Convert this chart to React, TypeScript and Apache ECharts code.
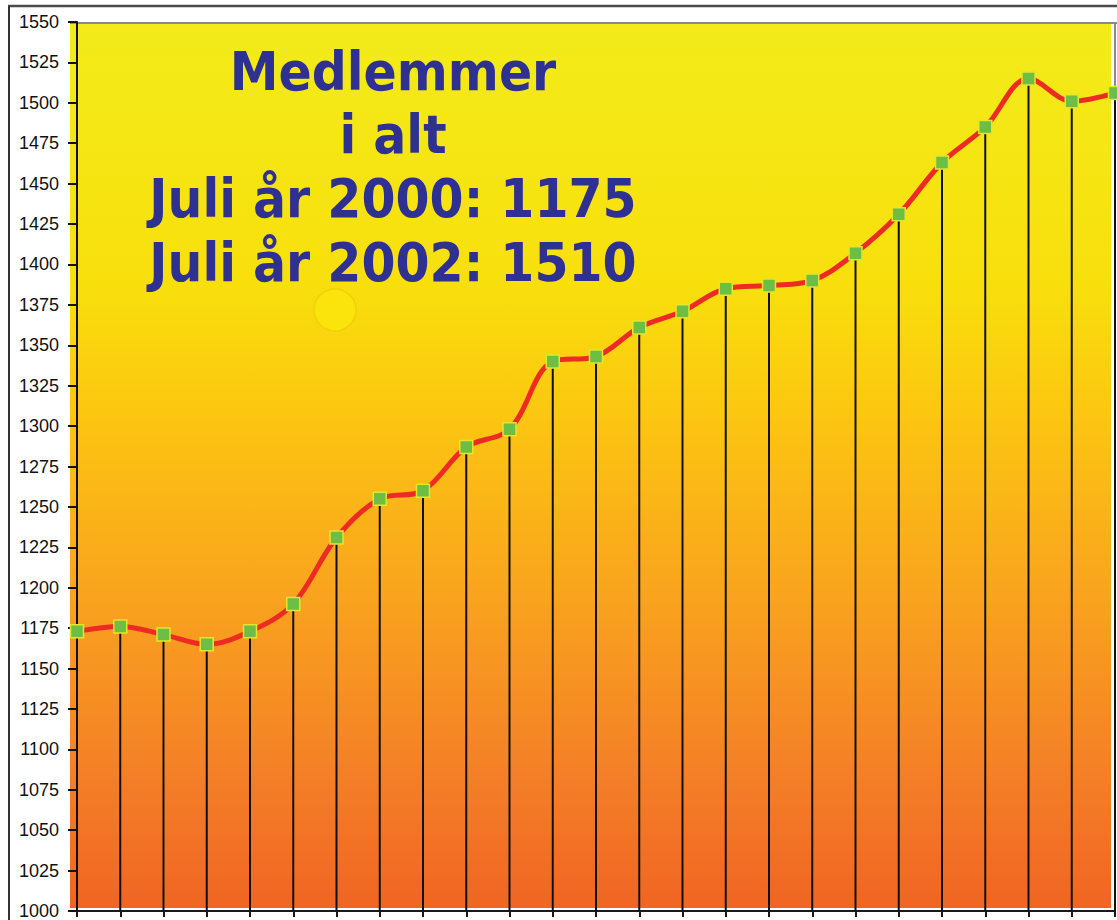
import React, { useEffect, useRef } from "react";
import * as echarts from "echarts";

const months: string[] = [
  "Jul 2000", "Aug 2000", "Sep 2000", "Okt 2000", "Nov 2000", "Dec 2000",
  "Jan 2001", "Feb 2001", "Mar 2001", "Apr 2001", "Maj 2001", "Jun 2001",
  "Jul 2001", "Aug 2001", "Sep 2001", "Okt 2001", "Nov 2001", "Dec 2001",
  "Jan 2002", "Feb 2002", "Mar 2002", "Apr 2002", "Maj 2002", "Jun 2002",
  "Jul 2002",
];

const members: number[] = [
  1173, 1176, 1171, 1165, 1173, 1190, 1231, 1255, 1260, 1287, 1298, 1340,
  1343, 1361, 1371, 1385, 1387, 1390, 1407, 1431, 1463, 1485, 1515, 1501,
  1506,
];

const titleLines: string[] = [
  "Medlemmer",
  "i alt",
  "Juli år 2000: 1175",
  "Juli år 2002: 1510",
];

const Y_MIN = 1000;
const Y_MAX = 1550;
const Y_STEP = 25;

export default function App() {
  const ref = useRef<HTMLDivElement>(null);

  useEffect(() => {
    if (!ref.current) return;
    const chart = echarts.init(ref.current, undefined, { renderer: "svg" });

    const titleY = [71, 134, 198, 262];

    const option: any = {
      animation: false,
      backgroundColor: "#ffffff",
      grid: { left: 77, right: 2, top: 22, bottom: 4, containLabel: false },
      xAxis: {
        type: "category",
        data: months,
        boundaryGap: false,
        axisLine: { show: true, lineStyle: { color: "#1a1a1a", width: 2 } },
        axisTick: {
          show: true,
          interval: 0,
          length: 6,
          lineStyle: { color: "#1a1a1a", width: 2 },
        },
        axisLabel: { show: false },
        splitLine: { show: false },
      },
      yAxis: {
        type: "value",
        min: Y_MIN,
        max: Y_MAX,
        interval: Y_STEP,
        axisLine: { show: true, lineStyle: { color: "#111", width: 2 } },
        axisTick: { show: true, length: 9, lineStyle: { color: "#111", width: 2 } },
        axisLabel: {
          margin: 18,
          color: "#111",
          fontFamily: "Liberation Sans, Arial, sans-serif",
          fontSize: 18,
          formatter: (v: number) => String(v),
        },
        splitLine: { show: false },
      },
      graphic: [
        {
          type: "rect",
          z: -10,
          silent: true,
          shape: { x: 70, y: 22, width: 1041, height: 886 },
          style: {
            fill: new echarts.graphic.LinearGradient(0, 0, 0, 1, [
              { offset: 0, color: "#F2EC1A" },
              { offset: 0.3, color: "#F8DF0C" },
              { offset: 0.45, color: "#FCC511" },
              { offset: 0.65, color: "#F9A31E" },
              { offset: 0.85, color: "#F47F27" },
              { offset: 1, color: "#F06523" },
            ]),
          },
        },
        {
          type: "circle",
          z: -9,
          silent: true,
          shape: { cx: 335, cy: 310, r: 21 },
          style: { fill: "#FBE30C", stroke: "rgba(235,200,0,0.6)", lineWidth: 1.5 },
        },
        {
          type: "line",
          z: -5,
          silent: true,
          shape: { x1: 8, y1: 6, x2: 1117, y2: 6 },
          style: { stroke: "#4a4a4a", lineWidth: 2.5 },
        },
        {
          type: "line",
          z: -5,
          silent: true,
          shape: { x1: 9, y1: 6, x2: 9, y2: 920 },
          style: { stroke: "#333", lineWidth: 2 },
        },
        {
          type: "line",
          z: -5,
          silent: true,
          shape: { x1: 70, y1: 23, x2: 1117, y2: 23 },
          style: { stroke: "#8a8a8a", lineWidth: 2 },
        },
        {
          type: "line",
          z: -5,
          silent: true,
          shape: { x1: 1115, y1: 22, x2: 1115, y2: 916 },
          style: { stroke: "#8a8a8a", lineWidth: 2 },
        },
        ...titleLines.map((t, i) => ({
          type: "text",
          z: 100,
          silent: true,
          x: 393,
          y: titleY[i],
          scaleY: 1.1,
          style: {
            x: 0,
            y: 0,
            text: t,
            fill: "#2E3192",
            font: "bold 49px 'DejaVu Sans', Verdana, sans-serif",
            textAlign: "center",
            textVerticalAlign: "middle",
          },
        })),
      ],
      series: [
        {
          type: "custom",
          z: 1,
          silent: true,
          data: members.map((v, i) => [i, v]),
          renderItem: (params: any, api: any) => {
            const idx = api.value(0);
            const val = api.value(1);
            const p1 = api.coord([idx, val]);
            const p2 = api.coord([idx, Y_MIN]);
            return {
              type: "line",
              shape: { x1: p1[0], y1: p1[1], x2: p2[0], y2: p2[1] },
              style: { stroke: "#111", lineWidth: 2 },
            };
          },
        },
        {
          type: "line",
          z: 5,
          data: members,
          smooth: 0.35,
          symbol: "rect",
          symbolSize: 13,
          showAllSymbol: true,
          lineStyle: { color: "#EE2A24", width: 5 },
          itemStyle: { color: "#6DBE45", borderColor: "#E4E62A", borderWidth: 1.5 },
        },
      ],
    };

    chart.setOption(option);
    return () => chart.dispose();
  }, []);

  return (
    <div
      ref={ref}
      style={{ position: "absolute", left: 0, top: 0, width: 1117, height: 920 }}
    />
  );
}
